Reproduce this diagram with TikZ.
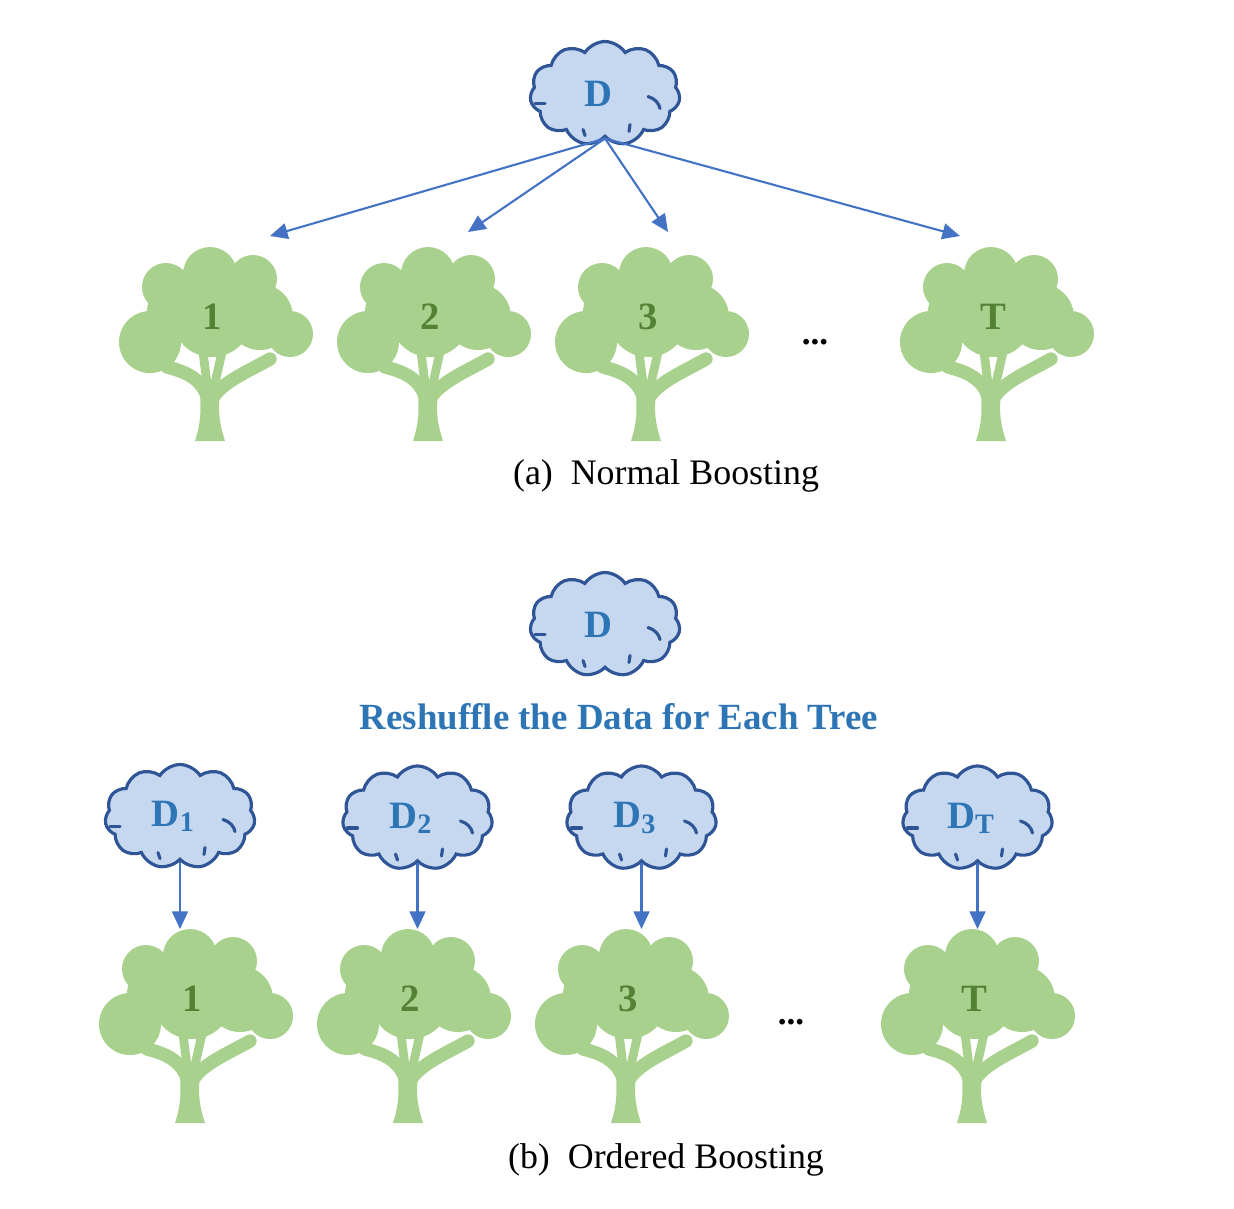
\documentclass[tikz,border=0pt]{standalone}
\usepackage{fontspec}
\setmainfont{Liberation Serif}
\usetikzlibrary{arrows.meta,shapes.symbols}
\definecolor{cloudfill}{HTML}{C5D8EF}
\definecolor{cloudline}{HTML}{2F5597}
\definecolor{datablue}{HTML}{2E75B6}
\definecolor{flowblue}{HTML}{4472C4}
\definecolor{treegreen}{HTML}{A9D18E}
\definecolor{treelabel}{HTML}{548235}
\tikzset{%
    >={Triangle[length=5pt,width=4.5pt]},
    datacloud/.style={cloud, cloud puffs=11, cloud puff arc=115, aspect=1.5,
        draw=cloudline, fill=cloudfill, line width=0.9pt, inner sep=0pt,
        minimum width=1.5cm, minimum height=1.04cm, text=datablue,
        font=\fontsize{11}{12}\selectfont\bfseries},
    curl/.style={draw=cloudline, line width=0.9pt, line cap=round},
    flow/.style={draw=flowblue, line width=0.6pt, ->},
    branch/.style={draw=treegreen, line cap=round, line width=#1},
    treetext/.style={text=treelabel, font=\fontsize{11}{12}\selectfont\bfseries},
    caption/.style={font=\fontsize{10.2}{12}\selectfont},
}
\newcommand\TreeElement[4]{%
    \begin{scope}[shift={(#2,#3)}]
      \fill[treegreen] (-2,-43) circle (27) (-46,-30) circle (24) (41,-38) circle (24)
          (48,0) circle (33) (78,17) circle (23) (-62,25) circle (31)
          (-35,-5) circle (30) (0,0) circle (40);
      \fill[treegreen] (-17,124) .. controls (-11,105) and (-11,95) .. (-12,76)
          -- (8,76) .. controls (6,95) and (7,105) .. (13,124) -- cycle;
      \draw[branch=3.8pt] (-4,82) .. controls (-10,62) and (-25,55) .. (-45,50);
      \draw[branch=3.8pt] (0,82) .. controls (10,65) and (35,55) .. (58,42);
      \draw[branch=2.5pt] (-4,75) -- (-9,35);
      \draw[branch=2.5pt] (1,75) -- (10,35);
      \node[treetext] (#1) at (0,0) {#4};
      \coordinate (#1-top) at (-2,-70);
    \end{scope}
}
\newcommand\CloudCurls[1]{%
    \begin{scope}[shift={(#1.center)}]
      \draw[curl] (-70,10) -- (-60,10);
      \draw[curl] (43,3) .. controls (50,5) and (54,10) .. (55,15);
      \draw[curl] (-22,36) -- (-20,42);
      \draw[curl] (25,31) -- (24,38);
    \end{scope}
}

\begin{document}
\begin{tikzpicture}[x=0.01cm, y=-0.01cm]
      \useasboundingbox (0,0) rectangle (1234,1208);

      % (a) normal boosting
      \node[datacloud] (d) at (605,93.5) {D\kern4pt};
      \CloudCurls{d};

      \TreeElement{a1}{212}{317}{1}
      \TreeElement{a2}{430}{317}{2}
      \TreeElement{a3}{648}{317}{3}
      \TreeElement{aT}{993}{317}{T}
      \node[font=\bfseries] (adots) at (815,342) {...};

      \coordinate (e1) at (270,236);
      \coordinate (e2) at (468,232);
      \coordinate (e3) at (668,232);
      \coordinate (eT) at (960,236);
      \draw[flow] (d.south) -- (e1);
      \draw[flow] (d.south) -- (e2);
      \draw[flow] (d.south) -- (e3);
      \draw[flow] (d.south) -- (eT);

      \node[caption] (capa) at (666,476) {(a)\hspace{0.5em}Normal Boosting};

      % (b) ordered boosting
      \node[datacloud] (db) at (605,624.5) {D\kern4pt};
      \CloudCurls{db};
      \node[text=datablue, font=\fontsize{10.5}{12}\selectfont\bfseries] (shuffle) at (619,717)
          {Reshuffle the Data for Each Tree};

      \node[datacloud] (d1) at (180,816.5) {D\raisebox{-0.3ex}{\fontsize{8}{8}\selectfont 1}\kern4pt};
      \node[datacloud] (d2) at (417.5,818) {D\raisebox{-0.3ex}{\fontsize{8}{8}\selectfont 2}\kern4pt};
      \node[datacloud] (d3) at (641.5,818) {D\raisebox{-0.3ex}{\fontsize{8}{8}\selectfont 3}\kern4pt};
      \node[datacloud] (dT) at (977.5,818) {D\raisebox{-0.3ex}{\fontsize{8}{8}\selectfont T}\kern4pt};
      \CloudCurls{d1};
      \CloudCurls{d2};
      \CloudCurls{d3};
      \CloudCurls{dT};

      \TreeElement{b1}{192}{999}{1}
      \TreeElement{b2}{410}{999}{2}
      \TreeElement{b3}{628}{999}{3}
      \TreeElement{bT}{974}{999}{T}
      \node[font=\bfseries] (bdots) at (791,1022) {...};

      \draw[flow] (d1.south) -- (d1.south |- b1-top);
      \draw[flow] (d2.south) -- (d2.south |- b2-top);
      \draw[flow] (d3.south) -- (d3.south |- b3-top);
      \draw[flow] (dT.south) -- (dT.south |- bT-top);

      \node[caption] (capb) at (666,1160) {(b)\hspace{0.5em}Ordered Boosting};
    \end{tikzpicture}
\end{document}
